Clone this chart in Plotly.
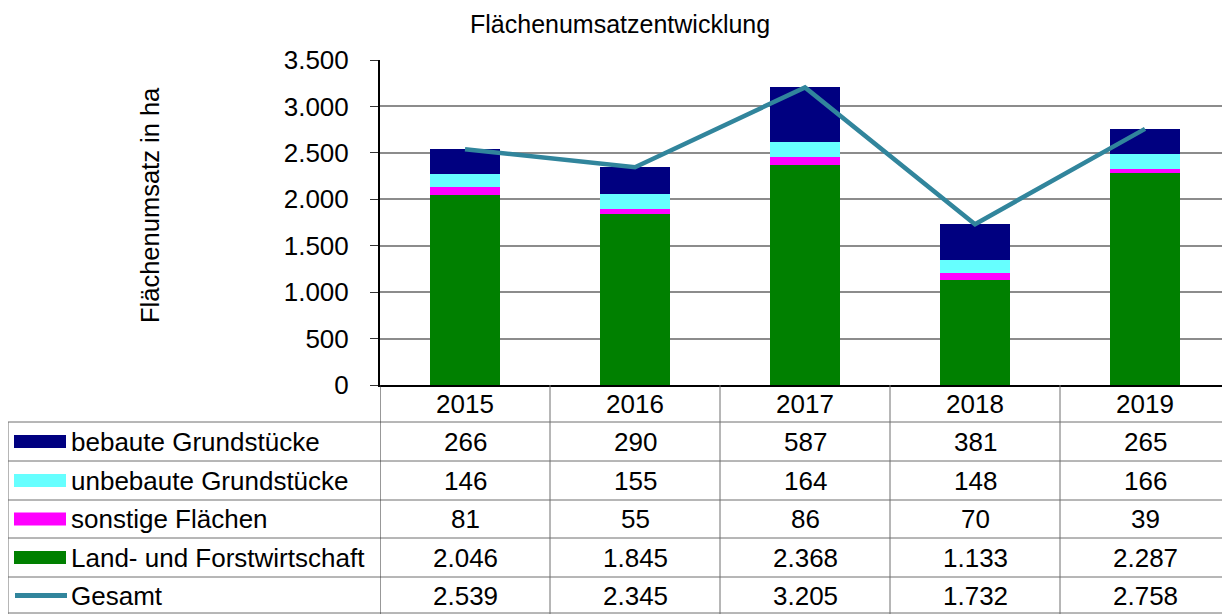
import plotly.graph_objects as go

years = ["2015", "2016", "2017", "2018", "2019"]
land_forst = [2046, 1845, 2368, 1133, 2287]
sonstige = [81, 55, 86, 70, 39]
unbebaute = [146, 155, 164, 148, 166]
bebaute = [266, 290, 587, 381, 265]
gesamt = [2539, 2345, 3205, 1732, 2758]

y_ticks = [0, 500, 1000, 1500, 2000, 2500, 3000, 3500]
y_tick_labels = ["0", "500", "1.000", "1.500", "2.000", "2.500", "3.000", "3.500"]

FONT = "Liberation Sans, Arial, sans-serif"
OFF = 8  # page body margin
W, H = 1230 - OFF, 614 - OFF
# plot area in page pixels: x 380..1230, y 60..385
L, R, T, B = 380 - OFF, 0, 60 - OFF, 614 - 385
PW = W - L - R
PH = H - T - B


def px_x(px):
    return (px - OFF - L) / PW


def px_y(py):
    return (H - B - (py - OFF)) / PH


def fmt(v):
    return f"{v:,}".replace(",", ".")


colors = {
    "bebaute": "#000080",
    "unbebaute": "#66FFFF",
    "sonstige": "#FF00FF",
    "land": "#008000",
    "gesamt": "#31859C",
}

fig = go.Figure()
fig.add_bar(x=years, y=land_forst, name="Land- und Forstwirtschaft",
            marker=dict(color=colors["land"], line=dict(width=0)))
fig.add_bar(x=years, y=sonstige, name="sonstige Flächen",
            marker=dict(color=colors["sonstige"], line=dict(width=0)))
fig.add_bar(x=years, y=unbebaute, name="unbebaute Grundstücke",
            marker=dict(color=colors["unbebaute"], line=dict(width=0)))
fig.add_bar(x=years, y=bebaute, name="bebaute Grundstücke",
            marker=dict(color=colors["bebaute"], line=dict(width=0)))
fig.add_scatter(x=years, y=gesamt, name="Gesamt", mode="lines",
                line=dict(color=colors["gesamt"], width=4.5))

shapes = []
annotations = []
TXT = dict(size=26, color="black", family=FONT)

# table grid
grid_col = "#6e6e6e"
row_lines = [422, 461, 500, 538, 577, 613]
for ry in row_lines:
    shapes.append(dict(type="line", xref="paper", yref="paper",
                       x0=px_x(8), x1=px_x(1230), y0=px_y(ry), y1=px_y(ry),
                       line=dict(color=grid_col, width=1)))
shapes.append(dict(type="line", xref="paper", yref="paper",
                   x0=px_x(8), x1=px_x(8), y0=px_y(422), y1=px_y(614),
                   line=dict(color=grid_col, width=1)))
for i in range(len(years) + 1):
    shapes.append(dict(type="line", xref="x", yref="paper",
                       x0=i - 0.5, x1=i - 0.5, y0=px_y(385), y1=px_y(614),
                       line=dict(color=grid_col if i > 0 else "#333333", width=1)))

# header row: years
header_y = px_y(403.5)
for i, yr in enumerate(years):
    annotations.append(dict(x=i, y=header_y, xref="x", yref="paper", text=yr,
                            showarrow=False, font=TXT,
                            xanchor="center", yanchor="middle"))

rows = [
    ("bebaute Grundstücke", bebaute, colors["bebaute"], "bar"),
    ("unbebaute Grundstücke", unbebaute, colors["unbebaute"], "bar"),
    ("sonstige Flächen", sonstige, colors["sonstige"], "bar"),
    ("Land- und Forstwirtschaft", land_forst, colors["land"], "bar"),
    ("Gesamt", gesamt, colors["gesamt"], "line"),
]
row_centers = [441.5, 480.5, 519, 557.5, 595.5]
for (label, vals, col, kind), cy in zip(rows, row_centers):
    yc = px_y(cy)
    if kind == "bar":
        shapes.append(dict(type="rect", xref="paper", yref="paper",
                           x0=px_x(14), x1=px_x(66), y0=px_y(cy + 6.5), y1=px_y(cy - 6.5),
                           fillcolor=col, line=dict(width=0)))
    else:
        shapes.append(dict(type="line", xref="paper", yref="paper",
                           x0=px_x(15), x1=px_x(67), y0=yc, y1=yc,
                           line=dict(color=col, width=5)))
    annotations.append(dict(x=px_x(69), y=yc, xref="paper", yref="paper", text=label,
                            showarrow=False, font=TXT,
                            xanchor="left", yanchor="middle"))
    for i, v in enumerate(vals):
        annotations.append(dict(x=i, y=yc, xref="x", yref="paper", text=fmt(v),
                                showarrow=False, font=TXT,
                                xanchor="center", yanchor="middle"))

# y axis title
annotations.append(dict(x=px_x(150), y=px_y(205), xref="paper", yref="paper",
                        text="Flächenumsatz in ha", textangle=-90, showarrow=False,
                        font=dict(size=25.5, color="black", family=FONT),
                        xanchor="center", yanchor="middle"))
# title
annotations.append(dict(x=px_x(620), y=px_y(8.5), xref="paper", yref="paper",
                        text="Flächenumsatzentwicklung", showarrow=False,
                        font=dict(size=25, color="black", family=FONT),
                        xanchor="center", yanchor="top", borderpad=0))

fig.update_layout(
    width=W, height=H, autosize=False,
    margin=dict(l=L, r=R, t=T, b=B, pad=0),
    barmode="stack", bargap=0.59,
    plot_bgcolor="white", paper_bgcolor="white",
    showlegend=False,
    font=dict(family=FONT, size=26, color="black"),
    shapes=shapes, annotations=annotations,
    xaxis=dict(type="category", range=[-0.5, 4.5], showticklabels=False,
               showgrid=False, zeroline=False, showline=True,
               linecolor="black", linewidth=2, ticks="", fixedrange=True),
    yaxis=dict(range=[0, 3500], tickvals=y_ticks, ticktext=y_tick_labels,
               showgrid=True, gridcolor="#8c8c8c", gridwidth=2,
               zeroline=False, showline=True, linecolor="black", linewidth=2,
               ticks="outside", ticklen=8, tickcolor="#333333", tickwidth=1,
               ticklabelstandoff=16,
               tickfont=dict(size=26, color="black", family=FONT), fixedrange=True),
)

fig.write_html("out.html")
